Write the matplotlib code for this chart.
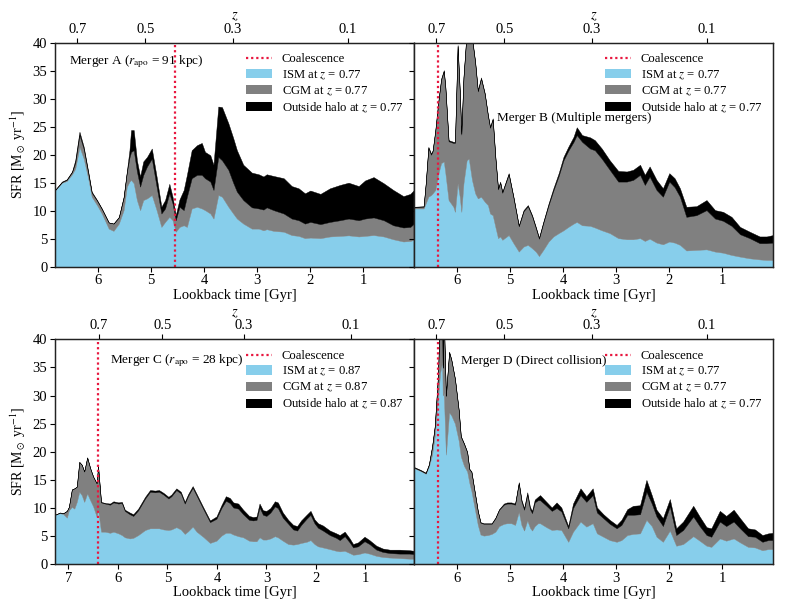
import numpy as np
import matplotlib
matplotlib.use("Agg")
import matplotlib.pyplot as plt
from matplotlib.patches import Patch
from matplotlib.lines import Line2D

plt.rcParams['font.family'] = ['Liberation Serif', 'DejaVu Serif']
plt.rcParams['mathtext.fontset'] = 'stix'
plt.rcParams['font.size'] = 10

# ---------------- data (cumulative boundaries) ----------------
# Merger A
t_A = [6.80, 6.67, 6.58, 6.48, 6.42, 6.34, 6.26, 6.17, 6.11, 6.01, 5.92, 5.79, 5.70, 5.60,
       5.51, 5.45, 5.40, 5.37, 5.32, 5.26, 5.20, 5.14, 5.07, 4.98, 4.89, 4.80, 4.73, 4.65,
       4.59, 4.53, 4.46, 4.38, 4.32, 4.23, 4.13, 4.04, 3.98, 3.88, 3.82, 3.73, 3.66, 3.54,
       3.45, 3.38, 3.26, 3.10, 2.97, 2.88, 2.82, 2.69, 2.50, 2.35, 2.22, 2.10, 2.00, 1.81,
       1.63, 1.44, 1.28, 1.09, 0.97, 0.81, 0.62, 0.44, 0.25, 0.12, 0.05]
total_A = [13.7, 15.2, 15.6, 17.0, 19.0, 24.1, 21.4, 16.7, 13.4, 11.9, 10.4, 7.9, 7.7, 8.9,
           12.5, 17.0, 20.8, 24.4, 24.4, 19.0, 16.1, 18.8, 19.6, 21.1, 16.1, 10.7, 11.9, 14.8,
           12.5, 9.2, 12.0, 13.7, 16.4, 20.8, 21.7, 22.1, 20.5, 19.9, 18.2, 28.6, 28.5, 25.6,
           23.0, 20.8, 18.2, 16.8, 16.5, 16.1, 16.5, 16.2, 15.8, 14.4, 14.0, 13.1, 13.6, 13.0,
           14.0, 14.6, 15.0, 14.4, 15.4, 16.0, 14.9, 13.7, 12.6, 13.0, 13.7]
ismcgm_A = [13.7, 15.1, 15.5, 16.9, 18.5, 23.5, 21.0, 16.4, 13.2, 11.8, 10.3, 7.9, 7.7, 8.8,
            12.3, 16.8, 19.5, 20.5, 20.8, 17.0, 14.3, 16.4, 17.9, 19.3, 14.3, 9.5, 10.4, 13.1,
            11.3, 8.3, 10.7, 10.1, 12.5, 15.8, 16.4, 16.4, 15.8, 15.2, 13.7, 19.6, 19.0, 17.3,
            15.0, 13.4, 11.9, 10.6, 10.4, 10.2, 10.6, 10.1, 9.5, 8.6, 8.3, 7.7, 8.0, 7.6,
            8.0, 8.3, 8.6, 8.3, 8.6, 8.8, 8.3, 7.4, 7.0, 7.1, 7.7]
ism_A = [13.6, 15.0, 15.3, 16.5, 17.5, 21.4, 19.3, 15.5, 12.5, 11.0, 9.5, 6.8, 6.4, 7.7,
         10.1, 14.3, 15.2, 15.5, 14.9, 11.9, 10.1, 11.9, 12.2, 12.8, 10.1, 7.1, 8.0, 8.9,
         8.3, 6.25, 7.1, 7.4, 7.1, 10.4, 10.7, 10.4, 10.1, 9.5, 8.6, 12.8, 12.5, 10.7,
         9.5, 8.6, 7.7, 6.8, 6.8, 6.5, 6.7, 6.4, 6.25, 5.65, 5.5, 5.1, 5.2, 5.1,
         5.4, 5.5, 5.6, 5.4, 5.5, 5.65, 5.4, 4.9, 4.5, 4.6, 4.8]

# Merger B
t_B = [6.80, 6.62, 6.58, 6.53, 6.48, 6.45, 6.40, 6.34, 6.29, 6.24, 6.21, 6.15, 6.06, 6.03,
       5.98, 5.94, 5.91, 5.87, 5.81, 5.77, 5.71, 5.65, 5.60, 5.54, 5.47, 5.41, 5.37, 5.32,
       5.27, 5.22, 5.18, 5.14, 5.02, 4.93, 4.83, 4.74, 4.66, 4.58, 4.51, 4.45, 4.37, 4.27,
       4.18, 4.08, 3.99, 3.90, 3.80, 3.74, 3.64, 3.49, 3.40, 3.27, 3.12, 2.96, 2.80, 2.68,
       2.55, 2.46, 2.37, 2.24, 2.12, 2.00, 1.90, 1.80, 1.68, 1.49, 1.30, 1.14, 0.99, 0.83,
       0.67, 0.49, 0.30, 0.17, 0.05]
total_B = [10.7, 10.8, 14.9, 21.4, 20.2, 20.8, 24.4, 29.8, 33.6, 35.1, 32.1, 22.6, 22.3, 22.3,
           39.6, 31.5, 23.8, 33.9, 42.0, 43.0, 41.0, 36.6, 31.5, 33.8, 31.0, 27.1, 25.0, 26.5,
           19.6, 14.0, 15.2, 13.4, 16.7, 12.5, 7.4, 10.1, 11.0, 9.2, 7.1, 5.2, 8.0, 11.3,
           14.0, 16.7, 19.6, 21.4, 23.2, 24.9, 23.5, 23.1, 22.6, 21.1, 19.0, 17.1, 17.0, 17.3,
           18.2, 16.4, 17.9, 15.5, 14.0, 16.7, 15.8, 14.0, 10.7, 10.8, 11.9, 10.1, 9.8, 8.9,
           7.1, 6.25, 5.4, 5.4, 5.65]
ismcgm_B = [10.6, 10.7, 14.8, 21.2, 20.0, 20.6, 24.2, 29.6, 33.4, 34.9, 31.9, 22.4, 22.1, 22.1,
            39.4, 31.3, 23.6, 33.7, 41.8, 42.8, 40.8, 36.4, 31.3, 33.6, 30.8, 26.9, 24.8, 26.3,
            19.4, 13.8, 15.0, 13.2, 16.5, 12.3, 7.2, 9.9, 10.8, 9.0, 6.9, 5.0, 7.8, 11.0,
            13.6, 16.2, 19.0, 20.7, 22.3, 23.5, 22.3, 21.1, 20.8, 19.3, 17.3, 15.2, 15.2, 15.5,
            16.4, 14.6, 16.1, 13.7, 12.5, 15.2, 14.2, 12.5, 8.9, 9.2, 10.1, 8.6, 8.2, 7.3,
            5.8, 5.1, 4.2, 4.2, 4.3]
ism_B = [10.4, 10.4, 11.3, 12.5, 12.8, 13.1, 13.7, 16.7, 18.5, 18.8, 16.7, 11.9, 10.7, 9.8,
         14.9, 12.5, 9.8, 14.9, 19.0, 19.3, 15.5, 13.1, 12.2, 12.5, 11.6, 11.0, 9.5, 9.2,
         7.1, 5.1, 5.4, 4.8, 5.65, 4.2, 2.7, 3.6, 3.9, 3.3, 2.7, 1.9, 3.0, 4.5,
         5.4, 6.0, 6.5, 7.1, 7.7, 8.0, 7.4, 7.3, 7.0, 6.5, 6.0, 5.1, 4.9, 4.9,
         5.1, 4.6, 5.0, 4.3, 4.0, 4.5, 4.3, 3.9, 2.9, 3.0, 3.1, 2.7, 2.5, 2.1,
         1.8, 1.5, 1.3, 1.2, 1.2]

# Merger C
t_C = [7.27, 7.17, 7.10, 7.03, 6.99, 6.93, 6.88, 6.83, 6.78, 6.73, 6.68, 6.62, 6.56, 6.50,
       6.43, 6.40, 6.34, 6.26, 6.16, 6.09, 5.99, 5.92, 5.86, 5.76, 5.69, 5.59, 5.45, 5.35,
       5.25, 5.17, 5.08, 4.98, 4.92, 4.82, 4.73, 4.65, 4.58, 4.49, 4.41, 4.28, 4.14, 4.01,
       3.91, 3.82, 3.74, 3.67, 3.57, 3.47, 3.35, 3.27, 3.20, 3.14, 3.07, 3.00, 2.92, 2.83,
       2.77, 2.67, 2.56, 2.46, 2.38, 2.30, 2.19, 2.11, 2.03, 1.96, 1.86, 1.72, 1.59, 1.52,
       1.42, 1.32, 1.25, 1.15, 1.02, 0.92, 0.78, 0.65, 0.51, 0.31, 0.11, 0.02]
total_C = [8.8, 9.2, 9.1, 9.5, 10.2, 13.3, 13.5, 13.8, 18.2, 17.7, 16.5, 19.0, 17.1, 15.6,
           14.4, 17.4, 11.1, 10.9, 10.8, 11.2, 11.0, 11.1, 9.7, 9.2, 8.9, 9.9, 12.0, 13.2,
           13.1, 13.2, 12.7, 12.0, 12.4, 13.5, 12.9, 11.1, 12.5, 13.9, 12.5, 10.2, 7.8, 8.5,
           10.5, 12.1, 11.8, 11.0, 10.8, 9.7, 8.6, 8.4, 8.5, 10.8, 9.6, 9.5, 10.0, 11.2,
           11.0, 9.2, 7.9, 7.0, 6.8, 7.8, 8.8, 9.5, 8.0, 7.3, 6.9, 6.0, 5.5, 5.2,
           5.8, 4.6, 3.6, 3.9, 4.9, 4.3, 3.3, 2.8, 2.6, 2.6, 2.5, 2.4]
ismcgm_C = [8.8, 9.2, 9.1, 9.5, 10.2, 13.3, 13.5, 13.8, 18.2, 17.7, 16.5, 19.0, 17.1, 15.6,
            14.4, 17.4, 11.0, 10.8, 10.6, 11.0, 10.8, 10.9, 9.5, 8.9, 8.6, 9.6, 11.7, 12.9,
            12.8, 12.9, 12.4, 11.7, 12.1, 13.2, 12.6, 10.8, 12.2, 13.6, 12.2, 9.9, 7.5, 8.1,
            10.0, 11.3, 10.9, 10.1, 9.9, 8.9, 7.9, 7.8, 7.9, 10.1, 8.8, 8.6, 9.2, 10.3,
            10.0, 8.3, 7.2, 6.2, 6.0, 7.0, 8.1, 8.8, 7.3, 6.5, 6.0, 5.2, 4.7, 4.3,
            5.0, 3.9, 3.0, 3.2, 4.1, 3.6, 2.6, 2.2, 2.0, 1.9, 1.9, 1.8]
ism_C = [8.8, 9.1, 8.9, 8.3, 9.6, 10.2, 9.9, 11.1, 12.9, 12.3, 11.1, 12.6, 11.4, 10.3,
         8.5, 9.7, 5.8, 5.8, 5.6, 5.8, 5.5, 5.2, 4.8, 4.6, 4.7, 5.2, 6.1, 6.4,
         6.4, 6.4, 6.2, 6.1, 6.2, 6.6, 6.2, 5.4, 5.9, 6.7, 5.8, 4.9, 3.8, 4.2,
         5.1, 5.6, 5.6, 5.3, 5.0, 4.8, 4.2, 4.1, 4.1, 4.8, 4.4, 4.4, 4.6, 5.0,
         4.8, 4.2, 3.6, 3.5, 3.6, 3.8, 4.0, 4.3, 3.6, 3.2, 3.0, 2.7, 2.4, 2.3,
         2.4, 2.0, 1.7, 1.8, 2.1, 1.9, 1.5, 1.3, 1.2, 1.1, 1.0, 1.0]

# Merger D
t_D = [6.80, 6.68, 6.58, 6.52, 6.46, 6.41, 6.35, 6.31, 6.27, 6.26, 6.24, 6.20, 6.14, 6.10,
       6.03, 5.96, 5.92, 5.86, 5.80, 5.76, 5.72, 5.66, 5.60, 5.55, 5.49, 5.41, 5.34, 5.27,
       5.20, 5.11, 5.05, 4.97, 4.90, 4.83, 4.78, 4.73, 4.67, 4.62, 4.58, 4.53, 4.47, 4.43,
       4.31, 4.21, 4.12, 4.03, 3.90, 3.81, 3.67, 3.56, 3.44, 3.36, 3.24, 3.12, 2.99, 2.90,
       2.79, 2.68, 2.55, 2.43, 2.33, 2.24, 2.12, 1.99, 1.87, 1.74, 1.55, 1.43, 1.30, 1.21,
       1.05, 0.93, 0.79, 0.67, 0.52, 0.39, 0.25, 0.14, 0.05]
total_D = [17.3, 16.8, 16.3, 17.8, 21.0, 24.6, 33.5, 45.0, 44.0, 35.0, 44.0, 30.0, 37.8, 36.5,
           33.0, 27.5, 22.8, 21.5, 20.0, 17.0, 16.5, 13.0, 9.5, 7.5, 7.3, 7.3, 7.3, 8.3,
           9.8, 10.8, 11.0, 11.0, 10.8, 14.6, 11.5, 10.0, 12.8, 10.2, 9.5, 11.5, 12.0, 12.3,
           11.1, 10.1, 11.0, 10.1, 6.8, 10.8, 13.5, 12.1, 13.5, 10.1, 8.9, 7.9, 7.0, 7.9,
           9.8, 10.4, 10.5, 15.0, 12.3, 9.7, 8.2, 11.6, 6.4, 7.6, 10.4, 8.5, 6.6, 6.4,
           9.5, 8.6, 9.7, 8.2, 6.4, 6.2, 5.2, 5.5, 5.6]
ismcgm_D = [17.2, 16.7, 16.2, 17.7, 20.9, 24.5, 33.4, 44.9, 43.9, 34.9, 43.9, 29.9, 37.7, 36.4,
            32.9, 27.4, 22.7, 21.4, 19.9, 16.9, 16.4, 12.9, 9.4, 7.4, 7.2, 7.2, 7.2, 8.2,
            9.7, 10.6, 10.8, 10.8, 10.6, 14.4, 11.2, 9.7, 12.4, 9.8, 9.1, 11.0, 11.4, 11.4,
            10.4, 9.5, 10.0, 9.4, 6.4, 10.0, 12.3, 11.1, 12.3, 9.2, 8.2, 7.2, 6.4, 7.0,
            8.8, 8.8, 8.9, 12.9, 10.8, 8.5, 6.8, 10.3, 5.2, 6.1, 8.5, 6.8, 5.2, 4.9,
            7.6, 6.8, 7.6, 6.4, 5.0, 4.9, 4.0, 4.3, 4.3]
ism_D = [17.1, 16.6, 16.1, 17.4, 19.5, 22.8, 29.3, 34.0, 36.0, 30.0, 30.5, 19.5, 27.0, 26.5,
         25.0, 22.0, 19.2, 17.5, 16.5, 14.5, 13.0, 10.0, 7.0, 5.3, 5.1, 5.2, 5.4, 5.8,
         6.8, 7.2, 7.3, 7.3, 7.0, 9.3, 7.0, 6.0, 7.8, 6.5, 6.0, 6.8, 7.3, 7.3,
         6.6, 6.1, 6.2, 6.1, 4.0, 5.8, 7.6, 6.7, 7.3, 5.5, 4.9, 4.3, 4.0, 4.3,
         5.2, 5.4, 5.5, 7.9, 6.8, 4.9, 4.0, 6.0, 3.3, 3.6, 5.0, 4.2, 3.3, 3.1,
         4.6, 4.2, 4.6, 3.9, 3.1, 3.0, 2.5, 2.7, 2.7]

coalescence = {'A': 4.55, 'B': 6.345, 'C': 6.395, 'D': 6.35}
titles = {'A': r'Merger A ($r_{\rm apo}$ = 91 kpc)',
          'B': 'Merger B (Multiple mergers)',
          'C': r'Merger C ($r_{\rm apo}$ = 28 kpc)',
          'D': 'Merger D (Direct collision)'}
title_pos = {'A': (0.039, 0.914), 'B': (0.23, 0.664), 'C': (0.152, 0.905), 'D': (0.131, 0.904)}
z_sel = {'A': '0.77', 'B': '0.77', 'C': '0.87', 'D': '0.77'}

z_ticks = [0.7, 0.5, 0.3, 0.1]
z_tick_lookback = [6.38, 5.10, 3.46, 1.30]   # lookback time [Gyr] of those redshifts

panels = {'A': (t_A, ism_A, ismcgm_A, total_A), 'B': (t_B, ism_B, ismcgm_B, total_B),
          'C': (t_C, ism_C, ismcgm_C, total_C), 'D': (t_D, ism_D, ismcgm_D, total_D)}

C_ISM = '#87CEEB'
C_CGM = '#808080'
C_OUT = '#000000'
C_COAL = '#e8173f'

W, H = 789, 607
fig = plt.figure(figsize=(W / 100, H / 100), dpi=100)
boxes = {
    'A': [55 / W, 1 - 266.7 / H, 359 / W, 224 / H],
    'B': [414 / W, 1 - 266.7 / H, 359 / W, 224 / H],
    'C': [55 / W, 1 - 564.3 / H, 359 / W, 225 / H],
    'D': [414 / W, 1 - 564.3 / H, 359 / W, 225 / H],
}

for key, (t, ism, ismcgm, total) in panels.items():
    ax = fig.add_axes(boxes[key])
    t = np.asarray(t)
    ism = np.asarray(ism)
    ismcgm = np.asarray(ismcgm)
    total = np.asarray(total)
    ax.fill_between(t, 0, ism, color=C_ISM, lw=0.3, ec=C_ISM)
    ax.fill_between(t, ism, ismcgm, color=C_CGM, lw=0.3, ec=C_CGM)
    ax.fill_between(t, ismcgm, total, color=C_OUT, lw=0.3, ec=C_OUT)
    ax.axvline(coalescence[key], color=C_COAL, ls=(0, (1, 1.3)), lw=1.6)
    ax.set_xlim(t[0], t[-1])
    ax.set_ylim(0, 40)
    ax.set_yticks(np.arange(0, 41, 5))
    ax.set_xticks([6, 5, 4, 3, 2, 1] if key != 'C' else [7, 6, 5, 4, 3, 2, 1])
    ax.set_xlabel('Lookback time [Gyr]', labelpad=1, fontsize=10.5)
    if key in ('A', 'C'):
        ax.set_ylabel(r'SFR [M$_\odot$ yr$^{-1}$]', labelpad=3)
    else:
        ax.tick_params(axis='y', labelleft=False)
    for s in ax.spines.values():
        s.set_linewidth(0.9)
        s.set_color('#222222')
    ax.tick_params(length=3.5, width=0.8, pad=2, labelsize=10.5)
    ax.text(title_pos[key][0], title_pos[key][1], titles[key], transform=ax.transAxes,
            ha='left', va='center', fontsize=9.5)
    zs = z_sel[key]
    handles = [Line2D([], [], color=C_COAL, ls=(0, (1, 1.3)), lw=1.6),
               Patch(fc=C_ISM, ec='none'), Patch(fc=C_CGM, ec='none'), Patch(fc=C_OUT, ec='none')]
    labels = ['Coalescence', rf'ISM at $z$ = {zs}', rf'CGM at $z$ = {zs}',
              rf'Outside halo at $z$ = {zs}']
    ax.legend(handles, labels, loc='upper right', frameon=False, handlelength=2.05,
              handleheight=0.75, labelspacing=0.22, borderaxespad=0.45, handletextpad=0.75,
              fontsize=9.1)
    ax2 = ax.twiny()
    ax2.set_xlim(ax.get_xlim())
    ax2.set_xticks(z_tick_lookback)
    ax2.set_xticklabels([f'{z:g}' for z in z_ticks])
    ax2.set_xlabel('$z$', labelpad=2.5, fontsize=10.5)
    ax2.tick_params(length=3.5, width=0.8, pad=1.5, labelsize=10.5)
    for s in ax2.spines.values():
        s.set_linewidth(0.9)
        s.set_color('#222222')

fig.savefig('out.png', dpi=100)
